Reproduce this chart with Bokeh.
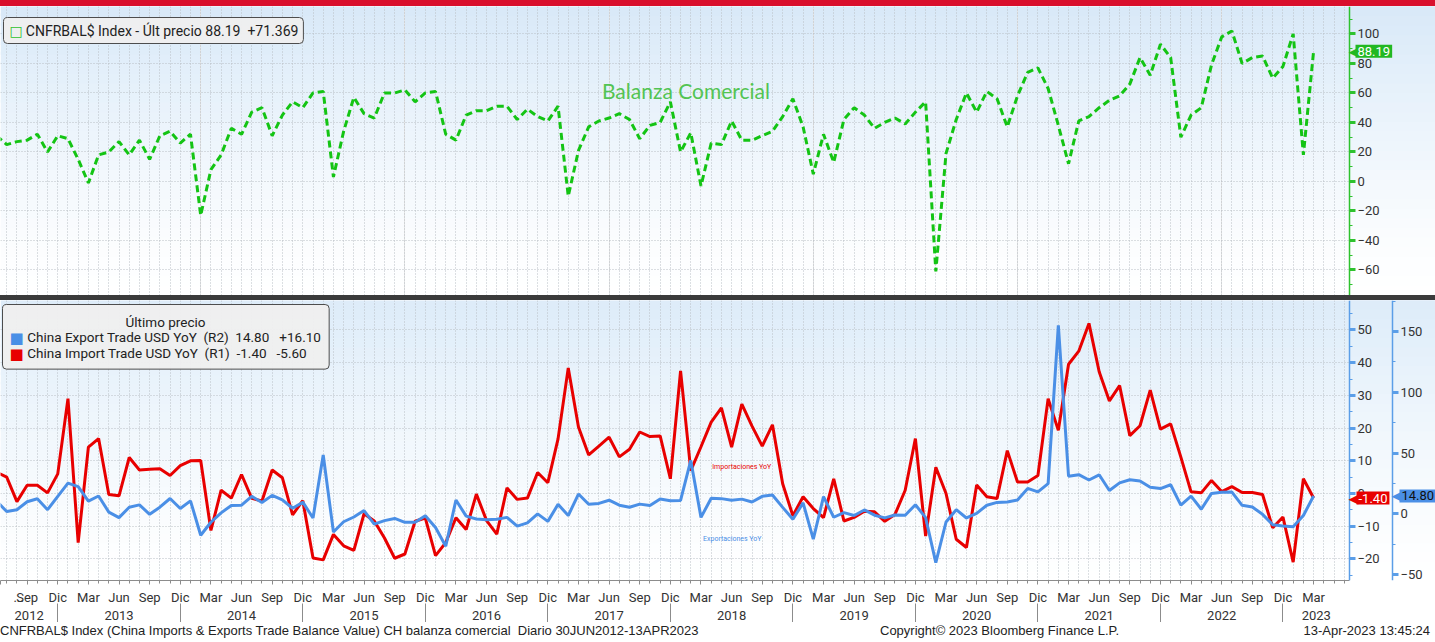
from bokeh.plotting import figure
from bokeh.models import (Range1d, LinearAxis, FixedTicker, SingleIntervalTicker,
                          Grid, Label, BoxAnnotation, Div)
from bokeh.layouts import column
from bokeh.embed import file_html
from bokeh.resources import INLINE

FONT = "Roboto"

# ---------------- data (monthly, first observation Jun 2012) ----------------
START_YEAR, START_MONTH = 2012, 6

trade_balance = [31, 25, 27, 28, 32, 20, 31, 29, 15, -1,
                 18, 20, 27, 18, 28, 15, 31, 34, 26, 32,
                 -23, 8, 18, 36, 32, 47, 50, 31, 45, 54,
                 50, 60, 61, 3, 34, 57, 46, 43, 60, 60,
                 62, 54, 60, 61, 32, 28, 45, 48, 48, 51,
                 51, 42, 49, 44, 41, 51, -10, 21, 37, 41,
                 43, 46, 42, 29, 38, 40, 54, 20, 33, -3,
                 26, 25, 41, 28, 28, 31, 34, 44, 56, 37,
                 5, 32, 13, 42, 50, 45, 36, 40, 43, 39,
                 47, 54, -61, 19, 42, 60, 47, 61, 56, 37,
                 58, 74, 77, 63, 38, 12, 41, 44, 50, 55,
                 58, 66, 84, 72, 93, 84, 30, 45, 50, 79,
                 98, 102, 80, 84, 85, 70, 78, 100, 18, 88.19]

import_yoy = [6.5, 5.0, -2.5, 2.5, 2.5, 0.2, 6.0, 29, -15, 14.2,
              16.8, -0.3, -0.7, 11, 7.2, 7.4, 7.6, 5.5, 8.5, 10,
              10.1, -11.3, 1, -1.4, 5.8, -1.5, -2.3, 7.2, 4.8, -6.5,
              -2.2, -19.7, -20.3, -12.5, -16, -17.4, -6.2, -8.4, -13.6, -19.8,
              -18.5, -8.5, -7.5, -19, -15, -7.4, -11, -0.2, -8.3, -12.4,
              1.7, -1.8, -1.4, 6.4, 3.3, 16.7, 38.4, 20.3, 11.8, 14.5,
              17.2, 11.2, 13.5, 18.8, 17.4, 17.6, 4.5, 37.5, 7, 14.3,
              21.8, 26.2, 14.2, 27.3, 20.6, 14.5, 21, 3, -6.8, -1,
              -4.6, -7.4, 4.5, -8.4, -7.3, -5.4, -5.6, -8.5, -6.4, 1,
              16.8, -13, 8, 0, -14, -16.5, 2.6, -1, -1.5, 13.1,
              3.5, 3.5, 5.5, 29, 19.3, 39.5, 43.5, 52, 37.2, 28.3,
              33, 17.7, 20.7, 31.6, 19.7, 21.3, 11.1, 0.5, 0.2, 4,
              0.6, 2.1, 0.3, 0.3, -0.3, -10.5, -7.2, -21, 4.5, -1.4]

export_yoy = [10.6, 2, 3.5, 10, 12.5, 3.5, 14.5, 25.3, 22.5, 10.5,
              14.8, 1.5, -3, 5.5, 7.5, -0.3, 5.6, 12.7, 4.5, 10.8,
              -17.5, -6.8, 0.9, 7, 7.2, 14.5, 9.4, 15.3, 11.6, 4.7,
              9.7, -3.3, 48.5, -14.8, -6.4, -2.5, 2.8, -8.3, -5.5, -3.7,
              -6.9, -6.8, -1.4, -11.2, -26.5, 11.5, -1.8, -4.1, -4.8, -4.4,
              -2.8, -10, -7.3, 0.1, -6.1, 7.9, -1.3, 16.4, 8, 8.7,
              11.3, 7.2, 5.5, 8.1, 6.9, 12.3, 10.9, 11.1, 44, -2.8,
              12.9, 12.6, 11.3, 12.2, 9.8, 14.5, 15.6, 5.4, -4.4, 9.1,
              -20.7, 14.2, -2.7, 1.1, -1.3, 3.3, -1, -3.2, -0.9, -1.1,
              7.6, -3, -40, -6.6, 3.5, -3.3, 0.5, 7.2, 9.5, 9.9,
              11.4, 21, 18.1, 25, 155, 31, 32.3, 27.9, 32.2, 19.3,
              25.6, 28.1, 27.1, 22, 20.9, 24, 7.3, 14.7, 3.9, 16.9,
              17.9, 18, 7.1, 5.7, -0.3, -8.9, -9.9, -10.5, -1.3, 14.8]

month_names = ["Ene", "Feb", "Mar", "Abr", "May", "Jun",
               "Jul", "Ago", "Sep", "Oct", "Nov", "Dic"]
year_labels = ["2012", "2013", "2014", "2015", "2016", "2017",
               "2018", "2019", "2020", "2021", "2022", "2023"]

# ---------------- layout constants ----------------
W = 1435                 # frame width (whole page width)
PX = 10.21               # pixels per month
X0 = 4 / PX              # left edge of the frames (month index)
X1 = X0 + W / PX         # right edge of the frames
AX1 = X0 + 1349 / PX     # position of the first right axis
AX2 = X0 + 1392 / PX     # position of the second right axis
TH = 289                 # top frame height
BH = 280                 # bottom frame height

GREEN = "#2ec22e"
LINE_GREEN = "#14c414"
RED = "#e80000"
BLUE = "#4a8fe6"
AXBLUE = "#5b9ee8"
GRID = "#b9bec4"
TICKGRAY = "#8c8c8c"

N = len(trade_balance)
idx = list(range(N))


def year_month(i):
    m = START_MONTH - 1 + i
    return START_YEAR + m // 12, m % 12 + 1


grid_months = list(range(0, int(AX1) + 1))
quarter_ticks = [i for i in idx if year_month(i)[1] in (3, 6, 9, 12) and i >= X0]
month_overrides = {i: month_names[year_month(i)[1] - 1] for i in quarter_ticks}
# a truncated label at the left edge, shown by Bloomberg as "..."
EDGE_TICK = round(X0 + 0.02, 2)
month_overrides[EDGE_TICK] = "\u00a0" * 4 + "..."
dec_ticks = [i for i in idx if year_month(i)[1] == 12]
bounds = [X0] + dec_ticks + [AX1]
year_centers = [round((bounds[k] + bounds[k + 1]) / 2, 2) for k in range(len(bounds) - 1)]
year_overrides = dict(zip(year_centers, year_labels))


def gradient(p, lo, hi, top_rgb, left=None, level="image", n=30, power=1.3):
    step = (hi - lo) / n
    for k in range(n):
        t = ((k + 0.5) / n) ** power
        c = tuple(int(round(255 + (tc - 255) * t)) for tc in top_rgb)
        kw = dict(bottom=lo + k * step, top=lo + (k + 1.3) * step,
                  fill_color="#%02x%02x%02x" % c, fill_alpha=1,
                  line_color=None, level=level)
        if left is not None:
            kw["left"] = left
        p.add_layout(BoxAnnotation(**kw))


def style_right_axis(ax, color, ticker, loc):
    ax.ticker = ticker
    ax.fixed_location = loc
    ax.axis_line_color = color
    ax.axis_line_width = 1.5
    ax.major_tick_line_color = color
    ax.major_tick_line_width = 3
    ax.major_tick_out = 6
    ax.major_tick_in = 0
    ax.minor_tick_line_color = color
    ax.minor_tick_out = 3
    ax.minor_tick_in = 0
    ax.major_label_text_font = FONT
    ax.major_label_text_font_size = "13px"
    ax.major_label_text_color = "#333333"
    ax.major_label_standoff = 2


def tag(p, y, text, fill, text_color, x_arrow, x_box, y_range_name="default"):
    p.add_layout(Label(x=x_arrow, y=y, x_units="screen", y_range_name=y_range_name,
                       text="\u25c0", text_font="DejaVu Sans", text_font_size="13px",
                       text_color=fill, text_baseline="middle"))
    p.add_layout(Label(x=x_box, y=y, x_units="screen", y_range_name=y_range_name,
                       text=text, text_font=FONT, text_font_size="13px",
                       text_color=text_color, text_baseline="middle",
                       background_fill_color=fill, padding=2))


# ---------------- top panel: trade balance ----------------
TOP_LO, TOP_HI = -77.3, 118.6
top = figure(frame_width=W, frame_height=TH, x_range=Range1d(X0, X1),
             y_range=Range1d(TOP_LO, TOP_HI), x_axis_location=None, y_axis_location="right",
             output_backend="svg", toolbar_location=None,
             min_border_left=0, min_border_top=0, min_border_bottom=0, min_border_right=0,
             background_fill_color="white", border_fill_color="white",
             outline_line_color=None)
gradient(top, TOP_LO, TOP_HI, (216, 233, 248))
style_right_axis(top.yaxis[0], GREEN, SingleIntervalTicker(interval=20, num_minor_ticks=2), AX1)
top.ygrid.ticker = SingleIntervalTicker(interval=20)
top.ygrid.grid_line_color = GRID
top.ygrid.grid_line_dash = "1 2"
top.add_layout(Grid(dimension=0, ticker=FixedTicker(ticks=grid_months),
                    grid_line_color=GRID, grid_line_dash="1 2"))
gradient(top, TOP_LO, TOP_HI, (216, 233, 248), left=AX1, level="underlay")

top.line(idx, trade_balance, line_color=LINE_GREEN, line_width=3, line_dash="7 4")

top.add_layout(Label(x=59.3, y=61.5, text="Balanza Comercial", text_font="Lato",
                     text_font_size="21px", text_color="#52c452", text_baseline="middle"))

top.add_layout(Label(x=3, y=TH - 24, x_units="screen", y_units="screen",
                     text="\u00a0\u00a0\u00a0\u00a0\u00a0CNFRBAL$ Index - Últ precio 88.19\u00a0\u00a0+71.369",
                     text_font=FONT, text_font_size="14px", text_color="#222222",
                     text_baseline="middle", background_fill_color="#efefef",
                     background_fill_alpha=0.95, border_line_color="#4d4d4d",
                     border_line_width=1, padding=5, border_radius=4))
top.add_layout(Label(x=9, y=TH - 24, x_units="screen", y_units="screen", text="\u25a1",
                     text_font="DejaVu Sans", text_font_size="14px", text_color=GREEN,
                     text_baseline="middle"))

tag(top, 88.19, "88.19", "#22b822", "white", 1348, 1355)

# ---------------- bottom panel: import / export YoY ----------------
R1_LO, R1_HI = -26.6, 59.0
R2_LO, R2_HI = -54.7, 175.5
bot = figure(frame_width=W, frame_height=BH, x_range=top.x_range,
             y_range=Range1d(R1_LO, R1_HI), y_axis_location="right", x_axis_location="below",
             output_backend="svg", toolbar_location=None,
             min_border_left=0, min_border_top=0, min_border_bottom=0, min_border_right=0,
             background_fill_color="white", border_fill_color="white",
             outline_line_color=None)
bot.extra_y_ranges = {"r2": Range1d(R2_LO, R2_HI)}
gradient(bot, R1_LO, R1_HI, (221, 236, 249))

style_right_axis(bot.yaxis[0], AXBLUE, SingleIntervalTicker(interval=10, num_minor_ticks=2), AX1)
r2 = LinearAxis(y_range_name="r2")
style_right_axis(r2, AXBLUE, SingleIntervalTicker(interval=50, num_minor_ticks=2), AX2)
bot.add_layout(r2, "right")

bot.ygrid.ticker = SingleIntervalTicker(interval=10)
bot.ygrid.grid_line_color = GRID
bot.ygrid.grid_line_dash = "1 2"
bot.xgrid.ticker = FixedTicker(ticks=grid_months)
bot.xgrid.grid_line_color = GRID
bot.xgrid.grid_line_dash = "1 2"
gradient(bot, R1_LO, R1_HI, (221, 236, 249), left=AX1, level="underlay")

xa = bot.xaxis[0]
xa.ticker = FixedTicker(ticks=[EDGE_TICK] + quarter_ticks, minor_ticks=grid_months)
xa.bounds = (X0, AX1)
xa.major_label_overrides = month_overrides
xa.axis_line_color = TICKGRAY
xa.major_tick_line_color = TICKGRAY
xa.minor_tick_line_color = TICKGRAY
xa.major_tick_out = 4
xa.major_tick_in = 0
xa.minor_tick_out = 3
xa.minor_tick_in = 0
xa.major_label_standoff = 5
xa.major_label_text_font = FONT
xa.major_label_text_font_size = "13px"
xa.major_label_text_color = "#333333"

ya = LinearAxis(ticker=FixedTicker(ticks=year_centers), major_label_overrides=year_overrides)
ya.axis_line_color = None
ya.major_tick_line_color = None
ya.major_tick_out = 0
ya.major_tick_in = 0
ya.minor_tick_line_color = None
ya.minor_tick_out = 0
ya.minor_tick_in = 0
ya.major_label_standoff = 3
ya.major_label_text_font = FONT
ya.major_label_text_font_size = "13px"
ya.major_label_text_color = "#333333"
bot.add_layout(ya, "below")

sep_axis = LinearAxis(ticker=FixedTicker(ticks=[], minor_ticks=dec_ticks))
sep_axis.axis_line_color = None
sep_axis.major_tick_line_color = None
sep_axis.major_tick_out = 0
sep_axis.major_tick_in = 0
sep_axis.minor_tick_line_color = TICKGRAY
sep_axis.minor_tick_out = 0
sep_axis.minor_tick_in = 19
sep_axis.major_label_standoff = 0
bot.add_layout(sep_axis, "below")

bot.line(idx, import_yoy, line_color=RED, line_width=3)
bot.line(idx, export_yoy, line_color=BLUE, line_width=3, y_range_name="r2")

bot.add_layout(Label(x=70.1, y=8, text="Importaciones YoY", text_font=FONT,
                     text_font_size="7px", text_color=RED, text_baseline="middle"))
bot.add_layout(Label(x=69.2, y=-13.8, text="Exportaciones YoY", text_font=FONT,
                     text_font_size="7px", text_color=BLUE, text_baseline="middle"))

# legend box
row_export = "China Export Trade USD YoY\u00a0\u00a0(R2)\u00a0\u00a014.80\u00a0\u00a0\u00a0+16.10"
row_import = "China Import Trade USD YoY\u00a0\u00a0(R1)\u00a0\u00a0-1.40\u00a0\u00a0\u00a0-5.60"
pad5 = "\u00a0\u00a0\u00a0\u00a0\u00a0"
bot.add_layout(Label(x=2, y=BH - 4, x_units="screen", y_units="screen",
                     text="\u00a0\n" + pad5 + row_export + "\n" + pad5 + row_import,
                     text_font=FONT, text_font_size="13.5px", text_color="#222222",
                     text_line_height=1.02, text_baseline="top",
                     background_fill_color="#efefef", background_fill_alpha=0.95,
                     border_line_color="#4d4d4d", border_line_width=1, padding=8,
                     border_radius=4))
bot.add_layout(Label(x=165, y=BH - 21, x_units="screen", y_units="screen",
                     text="Último precio", text_font=FONT, text_font_size="13.5px",
                     text_color="#222222", text_align="center", text_baseline="middle"))
bot.add_layout(Label(x=9, y=BH - 37, x_units="screen", y_units="screen", text="\u25a0",
                     text_font="DejaVu Sans", text_font_size="15px", text_color=BLUE,
                     text_baseline="middle"))
bot.add_layout(Label(x=9, y=BH - 53, x_units="screen", y_units="screen", text="\u25a0",
                     text_font="DejaVu Sans", text_font_size="15px", text_color=RED,
                     text_baseline="middle"))

tag(bot, -1.40, "-1.40", RED, "white", 1348, 1356)
tag(bot, 14.80, "14.80", BLUE, "#111111", 1391, 1399, y_range_name="r2")

# ---------------- page furniture ----------------
red_strip = Div(text="", width=W, height=6, margin=0,
                styles={"background-color": "#d90f2c"})
separator = Div(text="", width=W, height=5, margin=0,
                styles={"background-color": "#3b3b3b"})
footer_html = (
    '<div style="position:relative;width:1435px;height:18px;font-family:\'Liberation Sans Narrow\',sans-serif;'
    'font-size:13px;color:#222;line-height:16px;white-space:nowrap;">'
    '<span style="position:absolute;left:0px;top:1px;">CNFRBAL$ Index (China Imports &amp; Exports Trade Balance Value) '
    'CH balanza comercial&nbsp;&nbsp;Diario 30JUN2012-13APR2023</span>'
    '<span style="position:absolute;left:880px;top:1px;">Copyright&copy; 2023 Bloomberg Finance L.P.</span>'
    '<span style="position:absolute;right:5px;top:1px;">13-Apr-2023 13:45:24</span></div>'
)
footer = Div(text=footer_html, width=W, height=18, margin=0)

layout = column(red_strip, top, separator, bot, footer, spacing=0)

open("out.html", "w").write(file_html(layout, INLINE))
